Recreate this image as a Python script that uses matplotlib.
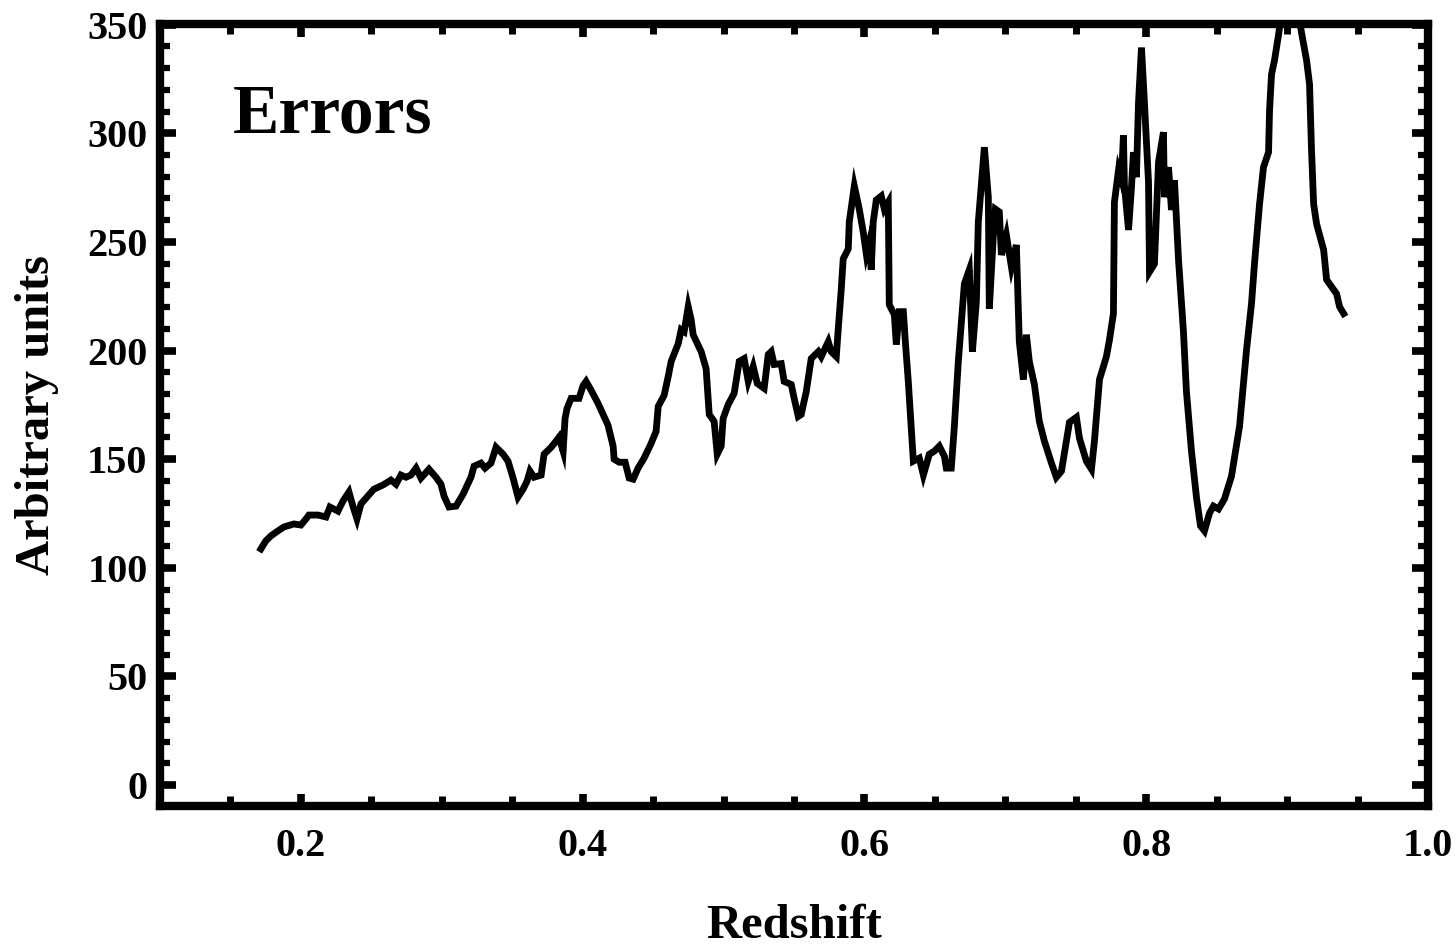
import matplotlib
matplotlib.use("Agg")
import matplotlib.pyplot as plt
from matplotlib.ticker import MultipleLocator, FormatStrFormatter

# Redshift sampling of the error curve
redshift = [
    0.1716, 0.1751, 0.1787, 0.1837, 0.1879, 0.1950, 0.2000, 0.2036, 0.2057, 0.2121,
    0.2178, 0.2206, 0.2263, 0.2298, 0.2341, 0.2369, 0.2398, 0.2426, 0.2469, 0.2518,
    0.2582, 0.2639, 0.2675, 0.2710, 0.2746, 0.2781, 0.2817, 0.2852, 0.2909, 0.2959,
    0.2994, 0.3016, 0.3051, 0.3101, 0.3151, 0.3207, 0.3229, 0.3278, 0.3307, 0.3349,
    0.3385, 0.3435, 0.3470, 0.3506, 0.3541, 0.3577, 0.3605, 0.3626, 0.3655, 0.3705,
    0.3726, 0.3776, 0.3811, 0.3832, 0.3861, 0.3875, 0.3889, 0.3918, 0.3974, 0.4003,
    0.4024, 0.4060, 0.4109, 0.4145, 0.4180, 0.4216, 0.4223, 0.4259, 0.4301, 0.4330,
    0.4358, 0.4393, 0.4436, 0.4486, 0.4521, 0.4536, 0.4578, 0.4607, 0.4628, 0.4678,
    0.4699, 0.4720, 0.4749, 0.4770, 0.4784, 0.4841, 0.4876, 0.4898, 0.4933, 0.4955,
    0.4983, 0.4997, 0.5033, 0.5075, 0.5111, 0.5146, 0.5175, 0.5210, 0.5239, 0.5288,
    0.5317, 0.5338, 0.5359, 0.5409, 0.5430, 0.5480, 0.5501, 0.5530, 0.5551, 0.5587,
    0.5622, 0.5672, 0.5693, 0.5743, 0.5764, 0.5800, 0.5814, 0.5835, 0.5849, 0.5885,
    0.5892, 0.5928, 0.5963, 0.5991, 0.6013, 0.6034, 0.6048, 0.6062, 0.6084, 0.6119,
    0.6141, 0.6169, 0.6176, 0.6212, 0.6226, 0.6247, 0.6276, 0.6290, 0.6311, 0.6332,
    0.6347, 0.6389, 0.6418, 0.6460, 0.6496, 0.6531, 0.6567, 0.6581, 0.6616, 0.6638,
    0.6666, 0.6688, 0.6709, 0.6744, 0.6766, 0.6794, 0.6808, 0.6830, 0.6851, 0.6879,
    0.6886, 0.6915, 0.6929, 0.6957, 0.6972, 0.7007, 0.7043, 0.7078, 0.7099, 0.7128,
    0.7149, 0.7170, 0.7206, 0.7241, 0.7277, 0.7327, 0.7362, 0.7398, 0.7455, 0.7504,
    0.7526, 0.7575, 0.7611, 0.7632, 0.7668, 0.7717, 0.7739, 0.7767, 0.7774, 0.7803,
    0.7824, 0.7838, 0.7845, 0.7874, 0.7895, 0.7909, 0.7930, 0.7945, 0.7966, 0.7987,
    0.8016, 0.8023, 0.8058, 0.8087, 0.8122, 0.8129, 0.8158, 0.8179, 0.8200, 0.8229,
    0.8264, 0.8285, 0.8321, 0.8357, 0.8385, 0.8413, 0.8449, 0.8477, 0.8513, 0.8555,
    0.8605, 0.8662, 0.8712, 0.8747, 0.8768, 0.8804, 0.8832, 0.8868, 0.8875, 0.8889,
    0.8910, 0.8939, 0.8960, 0.8996, 0.9038, 0.9074, 0.9102, 0.9138, 0.9159, 0.9173,
    0.9188, 0.9209, 0.9259, 0.9280, 0.9315, 0.9351, 0.9372, 0.9401,
]

# Error amplitude (arbitrary units)
errors = [
    108.7, 112.4, 114.7, 117.0, 118.8, 120.2, 119.7, 122.5, 124.3, 124.3,
    123.4, 128.0, 126.1, 130.7, 134.9, 128.4, 122.5, 129.4, 132.6, 136.2,
    138.1, 140.4, 138.5, 142.7, 141.7, 142.7, 145.9, 141.3, 145.4, 141.7,
    138.5, 133.0, 128.0, 128.4, 133.9, 141.7, 146.8, 148.2, 145.9, 148.2,
    155.5, 152.3, 149.1, 141.3, 132.6, 136.2, 139.9, 144.5, 141.7, 142.7,
    152.3, 155.5, 158.3, 160.1, 153.7, 168.8, 173.4, 178.0, 178.0, 183.9,
    185.8, 181.7, 175.7, 170.6, 165.6, 156.0, 150.0, 148.6, 148.6, 141.3,
    140.8, 145.9, 150.5, 157.3, 162.8, 174.3, 179.4, 188.1, 195.0, 203.2,
    209.6, 208.7, 220.2, 214.2, 207.3, 199.5, 191.7, 170.6, 167.4, 152.3,
    156.0, 168.8, 175.2, 180.3, 195.0, 196.3, 185.8, 192.7, 184.9, 182.6,
    198.2, 199.5, 193.6, 194.0, 185.8, 184.4, 178.0, 169.7, 170.6, 181.2,
    196.3, 199.5, 197.2, 204.1, 199.5, 197.2, 210.1, 228.0, 242.2, 246.8,
    259.2, 275.7, 265.1, 254.6, 244.5, 250.0, 237.2, 259.2, 269.3, 271.1,
    265.1, 268.3, 221.1, 216.5, 202.8, 217.9, 217.9, 204.1, 185.8, 164.2,
    149.1, 150.5, 142.7, 152.3, 153.7, 156.0, 151.4, 145.9, 145.9, 165.1,
    195.0, 213.3, 230.7, 237.2, 199.5, 222.5, 259.2, 276.6, 293.6, 270.6,
    219.3, 253.2, 265.1, 263.8, 244.0, 253.2, 238.5, 248.6, 204.1, 186.7,
    207.3, 195.0, 184.4, 167.4, 158.3, 148.2, 141.7, 144.5, 167.0, 169.3,
    159.6, 149.1, 145.4, 158.3, 186.7, 197.2, 205.0, 217.0, 268.3, 283.0,
    278.4, 299.1, 276.1, 255.5, 275.2, 291.3, 279.8, 314.2, 339.4, 314.2,
    277.5, 236.2, 239.9, 286.7, 300.5, 270.6, 284.4, 264.7, 278.4, 241.7,
    208.7, 181.2, 153.7, 132.1, 119.3, 117.0, 125.2, 128.4, 127.1, 131.7,
    142.2, 165.1, 200.5, 221.6, 239.9, 267.4, 284.4, 291.3, 310.6, 327.1,
    333.5, 345.4, 355.5, 362.4, 364.7, 357.8, 346.3, 333.5, 322.5, 292.2,
    267.4, 258.3, 246.3, 232.6, 229.4, 226.1, 220.2, 217.0,
]

x_major = 0.2
x_minor = 0.05
y_major = 50
y_minor = 10

plt.rcParams["font.family"] = ["Liberation Serif", "DejaVu Serif"]
plt.rcParams["font.weight"] = "bold"

fig = plt.figure(figsize=(14.56, 9.48), dpi=100)
ax = fig.add_axes([0.1099, 0.1498, 0.8709, 0.8249])

ax.plot(redshift, errors, color="black", lw=4.9, solid_joinstyle="miter")

ax.set_xlim(0.1, 1.0)
ax.set_ylim(-9.6, 350.3)

ax.xaxis.set_major_locator(MultipleLocator(x_major))
ax.xaxis.set_minor_locator(MultipleLocator(x_minor))
ax.yaxis.set_major_locator(MultipleLocator(y_major))
ax.yaxis.set_minor_locator(MultipleLocator(y_minor))
ax.xaxis.set_major_formatter(FormatStrFormatter("%.1f"))
ax.yaxis.set_major_formatter(FormatStrFormatter("%d"))

for s in ax.spines.values():
    s.set_linewidth(6)

ax.tick_params(axis="both", which="both", direction="in",
               top=True, right=True, labelsize=29, color="black")
ax.tick_params(axis="x", which="major", length=9, width=5.5, pad=16)
ax.tick_params(axis="x", which="minor", length=7.5, width=5)
ax.tick_params(axis="y", which="major", length=11.5, width=5.5, pad=9)
ax.tick_params(axis="y", which="minor", length=7, width=4.5)
for lab in ax.get_xticklabels() + ax.get_yticklabels():
    lab.set_fontweight("bold")

ax.set_xlabel("Redshift", fontsize=35, fontweight="bold")
ax.set_ylabel("Arbitrary units", fontsize=35, fontweight="bold")
ax.xaxis.set_label_coords(0.5, -0.125)
ax.yaxis.set_label_coords(-0.080, 0.5)

ax.text(0.0576, 0.861, "Errors", transform=ax.transAxes,
        fontsize=50, fontweight="bold", ha="left", va="baseline")

fig.savefig("out.png", dpi=100)
